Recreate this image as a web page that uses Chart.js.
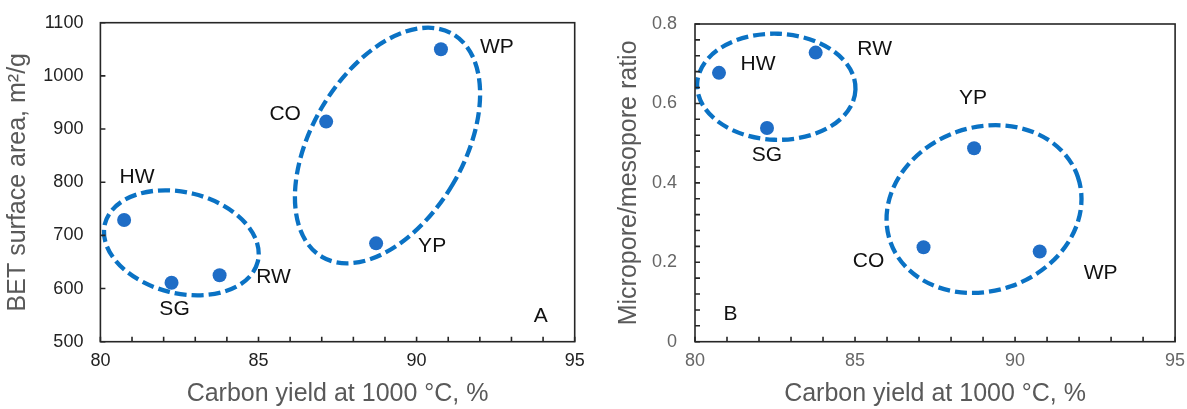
<!DOCTYPE html>
<html><head><meta charset="utf-8">
<script src="https://cdn.jsdelivr.net/npm/chart.js@4.4.1/dist/chart.umd.min.js"></script>
<style>
html,body{margin:0;padding:0;background:#fff;}
#wrap{position:relative;width:1187px;height:409px;overflow:hidden;background:#fff;}
#pa{position:absolute;left:0;top:0;width:590px;height:409px;}
#pb{position:absolute;left:590px;top:0;width:597px;height:409px;}
</style></head><body>
<div id="wrap"><canvas id="pa" width="590" height="409"></canvas><canvas id="pb" width="597" height="409"></canvas></div>
<script>
// ---- data ----
const samples = ['HW', 'SG', 'RW', 'CO', 'YP', 'WP'];
const carbonYield = [80.75, 82.25, 83.77, 87.14, 88.72, 90.77];
const betSurfaceArea = [729, 611, 625, 914, 685, 1050];
const microMesoRatio = [0.677, 0.538, 0.728, 0.238, 0.487, 0.227];
const xTickLabels = ['80', '85', '90', '95'];
const betTickLabels = ['500', '600', '700', '800', '900', '1000', '1100'];
const ratioTickLabels = ['0', '0.2', '0.4', '0.6', '0.8'];

// ---- group outlines (data-space centres / semi-axes, screen rotation in degrees) ----
const groupsA = [
  {cx: 82.56, cy: 686, rx: 2.49, ry: 95, rot: 13.8},
  {cx: 89.08, cy: 869, rx: 2.40, ry: 243, rot: 30.5}
];
const groupsB = [
  {cx: 82.54, cy: 0.642, rx: 2.475, ry: 0.1335, rot: 2},
  {cx: 89.03, cy: 0.334, rx: 3.10, ry: 0.206, rot: -19.2}
];

// label placement (pixels relative to the point)
const labelOffsetsA = {HW: [13, -43], SG: [3, 27], RW: [54, 2], CO: [-41, -7], YP: [56, 3], WP: [56, -2]};
const labelOffsetsB = {HW: [39, -9], SG: [0, 27], RW: [59, -3], CO: [-55, 14], YP: [-1, -50], WP: [61, 22]};

Chart.defaults.font.family = '"Liberation Sans", Arial, Helvetica, sans-serif';

const decor = {
  id: 'decor',
  beforeDatasetsDraw(chart, args, o) {
    const {ctx, scales: {x, y}} = chart;
    ctx.save();
    ctx.strokeStyle = '#0a72c4';
    ctx.lineWidth = 4.3;
    ctx.setLineDash([12, 5]);
    o.ellipses.forEach(e => {
      const cx = x.getPixelForValue(e.cx), cy = y.getPixelForValue(e.cy);
      const rx = Math.abs(x.getPixelForValue(e.cx + e.rx) - cx);
      const ry = Math.abs(y.getPixelForValue(e.cy + e.ry) - cy);
      ctx.beginPath();
      ctx.ellipse(cx, cy, rx, ry, e.rot * Math.PI / 180, 0, Math.PI * 2);
      ctx.stroke();
    });
    ctx.restore();
  },
  afterDatasetsDraw(chart, args, o) {
    const {ctx, chartArea: a, scales: {x, y}} = chart;
    ctx.save();
    ctx.strokeStyle = '#262626';
    ctx.lineWidth = 1.6;
    ctx.setLineDash([]);
    ctx.beginPath();
    x.ticks.forEach(t => {
      const px = x.getPixelForValue(t.value);
      ctx.moveTo(px, a.bottom); ctx.lineTo(px, a.bottom - 5);
    });
    y.ticks.forEach(t => {
      const py = y.getPixelForValue(t.value);
      ctx.moveTo(a.left, py); ctx.lineTo(a.left + 5, py);
    });
    ctx.stroke();
    ctx.strokeRect(a.left, a.top, a.right - a.left, a.bottom - a.top);

    ctx.fillStyle = '#111';
    ctx.font = '21px "Liberation Sans", Arial, sans-serif';
    ctx.textAlign = 'center';
    ctx.textBaseline = 'middle';
    const meta = chart.getDatasetMeta(0);
    meta.data.forEach((pt, i) => {
      const off = o.labelOffsets[samples[i]];
      ctx.fillText(samples[i], pt.x + off[0], pt.y + off[1]);
    });
    const L = o.letter;
    const lx = L.fromRight ? a.right - L.dx : a.left + L.dx;
    ctx.fillText(L.text, lx, a.bottom - L.dy);
    ctx.restore();
  }
};

function pickLabel(list) {
  return v => {
    const s = String(Math.round(v * 100) / 100);
    return list.includes(s) ? s : '';
  };
}

function zeroPad(s) {
  s.paddingLeft = 0; s.paddingRight = 0; s.paddingTop = 0; s.paddingBottom = 0;
}

function makeChart(id, yValues, opt) {
  return new Chart(document.getElementById(id), {
    type: 'scatter',
    data: {
      datasets: [{
        data: carbonYield.map((cx, i) => ({x: cx, y: yValues[i]})),
        backgroundColor: '#1f6dc6',
        borderWidth: 0,
        pointRadius: 7,
        pointHoverRadius: 7
      }]
    },
    options: {
      responsive: false,
      animation: false,
      devicePixelRatio: 1,
      layout: {padding: opt.padding},
      plugins: {
        legend: {display: false},
        tooltip: {enabled: false},
        decor: {ellipses: opt.ellipses, labelOffsets: opt.labelOffsets, letter: opt.letter}
      },
      scales: {
        x: {
          type: 'linear', min: 80, max: 95,
          grid: {display: false, drawTicks: false, tickLength: 0},
          border: {display: false},
          ticks: {stepSize: 1, autoSkip: false, maxRotation: 0, padding: 9, color: opt.tickColor,
                  font: {size: 18}, callback: pickLabel(xTickLabels)},
          title: {display: true, text: 'Carbon yield at 1000 °C, %', color: '#595959',
                  font: {size: 25, lineHeight: 1}, padding: {top: 0, bottom: 2.5}},
          afterFit(s) { s.height = 67.3; zeroPad(s); }
        },
        y: {
          type: 'linear', min: opt.yMin, max: opt.yMax,
          grid: {display: false, drawTicks: false, tickLength: 0},
          border: {display: false},
          ticks: {stepSize: opt.yStep, autoSkip: false, padding: opt.yPad, color: opt.tickColor,
                  font: {size: 18}, callback: pickLabel(opt.yLabels)},
          title: {display: true, text: opt.yTitle, color: '#595959',
                  font: {size: 25, lineHeight: 1}, padding: {top: opt.yTitlePad, bottom: 0}},
          afterFit(s) { s.width = opt.yWidth; zeroPad(s); }
        }
      }
    },
    plugins: [decor]
  });
}

makeChart('pa', betSurfaceArea, {
  padding: {left: 0, right: 15.3, top: 22.7, bottom: 0},
  ellipses: groupsA, labelOffsets: labelOffsetsA,
  letter: {text: 'A', fromRight: true, dx: 34, dy: 25},
  tickColor: '#222', yMin: 500, yMax: 1100, yStep: 100, yPad: 17, yLabels: betTickLabels,
  yTitle: 'BET surface area, m²/g', yTitlePad: 6, yWidth: 100.4
});

makeChart('pb', microMesoRatio, {
  padding: {left: 0, right: 11.9, top: 24, bottom: 0},
  ellipses: groupsB, labelOffsets: labelOffsetsB,
  letter: {text: 'B', fromRight: false, dx: 35.5, dy: 27.7},
  tickColor: '#666', yMin: 0, yMax: 0.8, yStep: 0.04, yPad: 18, yLabels: ratioTickLabels,
  yTitle: 'Micropore/mesopore ratio', yTitlePad: 26.2, yWidth: 105
});
</script>
</body></html>
